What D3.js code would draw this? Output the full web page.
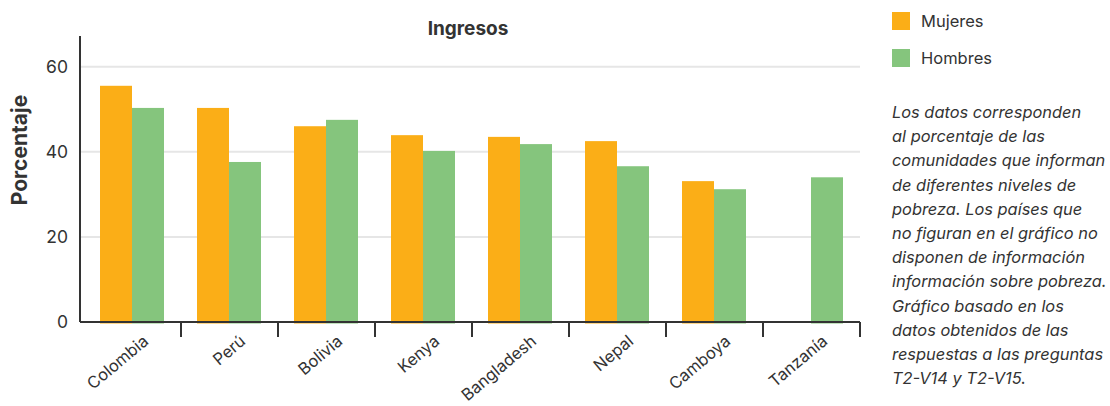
<!DOCTYPE html>
<html>
<head>
<meta charset="utf-8">
<script src="https://cdn.jsdelivr.net/npm/d3@7"></script>
<style>
  html, body { margin: 0; padding: 0; background: #fff; }
  svg { display: block; }
  text { font-family: Inter, "Open Sans", sans-serif; fill: #333; }
</style>
</head>
<body>
<svg id="chart" width="1110" height="406"></svg>
<script>
// Poverty reports by country, split by gender (percent of communities)
const countries = ["Colombia", "Perú", "Bolivia", "Kenya", "Bangladesh", "Nepal", "Camboya", "Tanzanía"];
const mujeres = [55.5, 50.3, 46.0, 43.9, 43.5, 42.5, 33.1, null];
const hombres = [50.3, 37.6, 47.5, 40.2, 41.8, 36.6, 31.2, 34.0];
const seriesNames = ["Mujeres", "Hombres"];
const seriesColors = ["#FBAE17", "#85C57D"];
const yTicks = [0, 20, 40, 60];
const noteLines = [
  "Los datos corresponden",
  "al porcentaje de las",
  "comunidades que informan",
  "de diferentes niveles de",
  "pobreza. Los países que",
  "no figuran en el gráfico no",
  "disponen de información",
  "información sobre pobreza.",
  "Gráfico basado en los",
  "datos obtenidos de las",
  "respuestas a las preguntas",
  "T2-V14 y T2-V15."
];

const svg = d3.select("#chart");
const axisX = 80, plotRight = 860, plotTop = 36, plotBottom = 322;

const x = d3.scaleBand().domain(countries).range([84, plotRight]).paddingInner(0).paddingOuter(0);
const inner = d3.scaleBand().domain(seriesNames).range([16, x.bandwidth() - 17]);
const y = d3.scaleLinear().domain([0, 67.2]).range([plotBottom, plotTop]);

// gridlines
svg.append("g").selectAll("line")
  .data(yTicks.filter(d => d > 0))
  .join("line")
  .attr("x1", axisX).attr("x2", plotRight)
  .attr("y1", d => y(d)).attr("y2", d => y(d))
  .attr("stroke", "#e6e6e6").attr("stroke-width", 2);

// bars
const rows = countries.map((c, i) => ({ c, vals: [mujeres[i], hombres[i]] }));
const groups = svg.append("g").selectAll("g")
  .data(rows).join("g")
  .attr("transform", d => `translate(${x(d.c)},0)`);
groups.selectAll("rect")
  .data(d => d.vals.map((v, k) => ({ v, k })).filter(e => e.v != null))
  .join("rect")
  .attr("x", e => inner(seriesNames[e.k]))
  .attr("width", inner.bandwidth())
  .attr("y", e => y(e.v))
  .attr("height", e => y(0) - y(e.v) + 1.5)
  .attr("fill", e => seriesColors[e.k]);

// y axis
const yAxis = svg.append("g").attr("transform", `translate(${axisX},0)`)
  .call(d3.axisLeft(y).tickValues(yTicks).tickSize(0).tickPadding(12));
yAxis.select(".domain").remove();
yAxis.selectAll("text").attr("font-size", 17.5).attr("fill", "#333")
  .style("font-family", "Inter, sans-serif");
svg.append("line")
  .attr("x1", axisX).attr("x2", axisX).attr("y1", plotTop).attr("y2", plotBottom)
  .attr("stroke", "#333").attr("stroke-width", 2);

// x axis
const xAxis = svg.append("g").attr("transform", `translate(0,${plotBottom})`)
  .call(d3.axisBottom(x).tickSize(0).tickFormat(""));
xAxis.select(".domain").remove();
svg.append("line")
  .attr("x1", axisX).attr("x2", plotRight).attr("y1", plotBottom).attr("y2", plotBottom)
  .attr("stroke", "#333").attr("stroke-width", 2);
svg.append("g").selectAll("line")
  .data(countries)
  .join("line")
  .attr("x1", d => x(d) + x.bandwidth()).attr("x2", d => x(d) + x.bandwidth())
  .attr("y1", plotBottom).attr("y2", plotBottom + 15)
  .attr("stroke", "#333").attr("stroke-width", 2);
svg.append("g").selectAll("text")
  .data(countries)
  .join("text")
  .attr("transform", d => `translate(${x(d) + x.bandwidth() / 2 + 17},${plotBottom + 21}) rotate(-40)`)
  .attr("text-anchor", "end")
  .attr("font-size", 16.5)
  .text(d => d);

// titles
svg.append("text")
  .attr("x", (axisX + plotRight) / 2 - 2).attr("y", 35)
  .attr("text-anchor", "middle").attr("font-size", 19).attr("font-weight", 700)
  .attr("fill", "#222")
  .text("Ingresos");
svg.append("text")
  .attr("transform", `translate(27,150) rotate(-90)`)
  .attr("text-anchor", "middle").attr("font-size", 21).attr("font-weight", 700)
  .attr("fill", "#222")
  .text("Porcentaje");

// legend
const legend = svg.append("g").attr("transform", "translate(892,12)");
seriesNames.forEach((name, i) => {
  const g = legend.append("g").attr("transform", `translate(0,${i * 37})`);
  g.append("rect").attr("width", 18).attr("height", 18).attr("fill", seriesColors[i]);
  g.append("text").attr("x", 29).attr("y", 15).attr("font-size", 16.5).text(name);
});

// note
svg.append("g").selectAll("text")
  .data(noteLines)
  .join("text")
  .attr("x", 892)
  .attr("y", (d, i) => 118 + i * 24.2)
  .attr("font-size", 16.4)
  .attr("font-style", "italic")
  .text(d => d);
</script>
</body>
</html>
